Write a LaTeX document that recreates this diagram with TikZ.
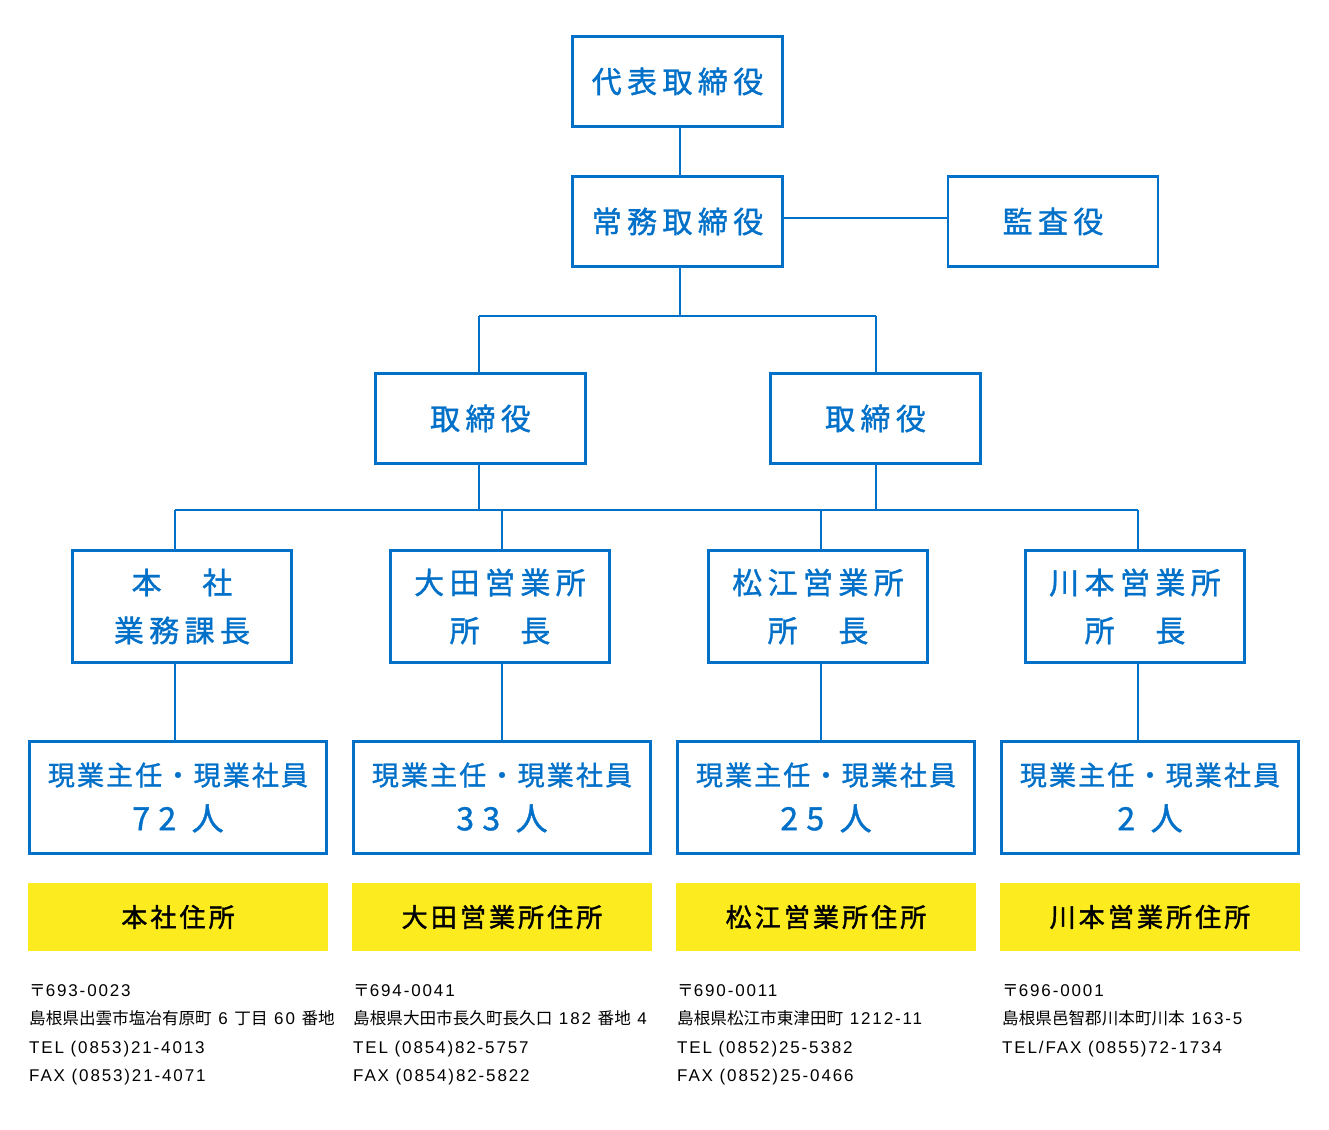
\documentclass[tikz,border=0pt]{standalone}
\usepackage{fontspec}
\newfontfamily\jp{Noto Sans CJK JP}
\newfontfamily\jpm[FakeBold=1.2]{Noto Sans CJK JP}
\newfontfamily\jpbold[FakeBold=1.6]{Noto Sans CJK JP}
\newfontfamily\lat[LetterSpace=11]{Liberation Sans}
\definecolor{bl}{RGB}{0,112,201}
\definecolor{yl}{RGB}{252,235,30}
\newcommand\J[1]{{\jp\fontsize{16.6}{28.5}\selectfont #1}}
\newcommand\num[1]{{\fontsize{32}{45}\selectfont\addfontfeature{LetterSpace=26}#1}}
\begin{document}
\begin{tikzpicture}[x=1pt,y=-1pt,
  box/.style={draw=bl, line width=2.6pt, fill=white, text=bl, align=center, inner sep=0pt,
    font=\jpm\fontsize{30}{48}\selectfont\addfontfeature{LetterSpace=18}},
  topbox/.style={box, minimum width=210pt, minimum height=90pt},
  midbox/.style={box, minimum width=219pt, minimum height=112pt},
  staffbox/.style={box, minimum width=297pt, minimum height=112pt,
    font=\jpm\fontsize{27}{45}\selectfont\addfontfeature{LetterSpace=8}},
  ybox/.style={fill=yl, inner sep=0pt, minimum width=300pt, minimum height=68pt, text=black,
    font=\jpbold\fontsize{26}{30}\selectfont\addfontfeature{LetterSpace=12}},
  adr/.style={anchor=north west, align=left, inner sep=0pt, text=black,
    font=\lat\fontsize{17}{28.5}\selectfont},
  link/.style={draw=bl, line width=2.6pt}
]
\useasboundingbox (0,0) rectangle (1329,1129);
\coordinate (j0) at (680,316);
\coordinate (jl) at (479,316);
\coordinate (jr) at (876,316);
\coordinate (h) at (784,218);
\coordinate (k1) at (175,510);
\coordinate (k2) at (502,510);
\coordinate (k3) at (821,510);
\coordinate (k4) at (1138,510);
\coordinate (kl) at (479,510);
\coordinate (kr) at (876,510);

\node[topbox] (ceo) at (677.5,81.5) {代表取締役};
\node[topbox] (jomu) at (677.5,221.5) {常務取締役};
\node[topbox] (kansa) at (1053,221.5) {監査役};
\node[topbox] (torl) at (480.5,418.5) {取締役};
\node[topbox] (torr) at (875.5,418.5) {取締役};

\node[midbox] (m1) at (182,606.5) {本　社\\業務課長};
\node[midbox] (m2) at (500,606.5) {大田営業所\\所　長};
\node[midbox] (m3) at (818,606.5) {松江営業所\\所　長};
\node[midbox] (m4) at (1135,606.5) {川本営業所\\所　長};

\node[staffbox] (s1) at (178,797.5) {現業主任・現業社員\\\num{72 人}};
\node[staffbox] (s2) at (502,797.5) {現業主任・現業社員\\\num{33 人}};
\node[staffbox] (s3) at (826,797.5) {現業主任・現業社員\\\num{25 人}};
\node[staffbox] (s4) at (1150,797.5) {現業主任・現業社員\\\num{2 人}};

\node[ybox] (y1) at (178,917) {本社住所};
\node[ybox] (y2) at (502,917) {大田営業所住所};
\node[ybox] (y3) at (826,917) {松江営業所住所};
\node[ybox] (y4) at (1150,917) {川本営業所住所};

\node[adr] (a1) at (29,984) {\J{〒}693-0023\\\J{島根県出雲市塩冶有原町} 6 \J{丁目} 60 \J{番地}\\TEL (0853)21-4013\\FAX (0853)21-4071};
\node[adr] (a2) at (353,984) {\J{〒}694-0041\\\J{島根県大田市長久町長久口} 182 \J{番地} 4\\TEL (0854)82-5757\\FAX (0854)82-5822};
\node[adr] (a3) at (677,984) {\J{〒}690-0011\\\J{島根県松江市東津田町} 1212-11\\TEL (0852)25-5382\\FAX (0852)25-0466};
\node[adr] (a4) at (1002,984) {\J{〒}696-0001\\\J{島根県邑智郡川本町川本} 163-5\\TEL/FAX (0855)72-1734};

\draw[link] (ceo.south -| j0) -- (jomu.north -| j0);
\draw[link] (jomu.east |- h) -- (h -| kansa.west);
\draw[link] (jomu.south -| j0) -- (j0);
\draw[link] (jl) -- (jr);
\draw[link] (jl) -- (jl |- torl.north);
\draw[link] (jr) -- (jr |- torr.north);
\draw[link] (torl.south -| kl) -- (kl);
\draw[link] (torr.south -| kr) -- (kr);
\draw[link] (k1) -- (k4);
\draw[link] (k1) -- (k1 |- m1.north);
\draw[link] (k2) -- (k2 |- m2.north);
\draw[link] (k3) -- (k3 |- m3.north);
\draw[link] (k4) -- (k4 |- m4.north);
\draw[link] (m1.south -| k1) -- (k1 |- s1.north);
\draw[link] (m2.south -| k2) -- (k2 |- s2.north);
\draw[link] (m3.south -| k3) -- (k3 |- s3.north);
\draw[link] (m4.south -| k4) -- (k4 |- s4.north);
\end{tikzpicture}
\end{document}
